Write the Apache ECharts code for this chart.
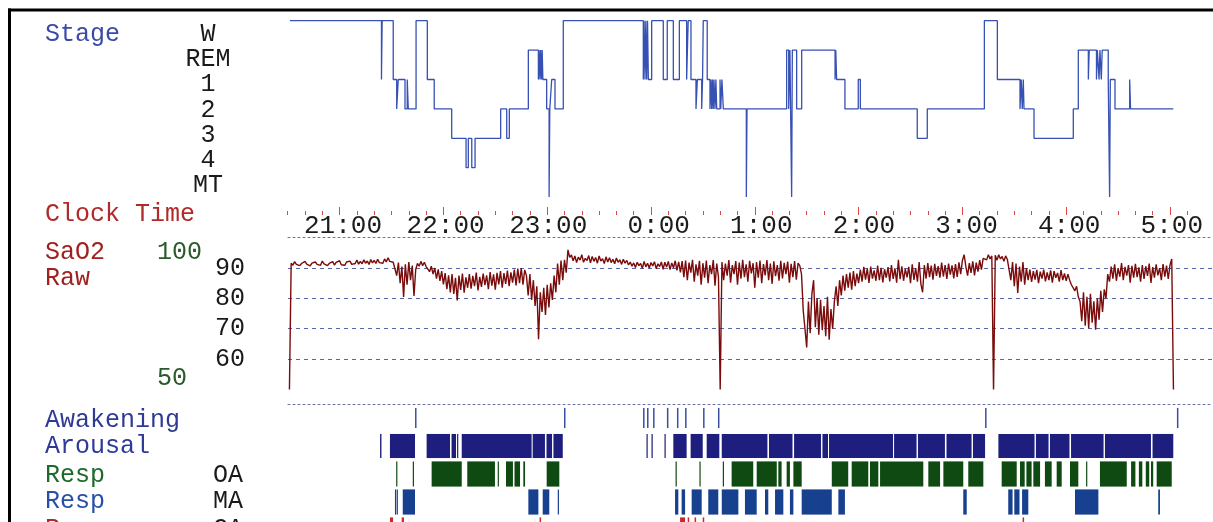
<!DOCTYPE html>
<html><head><meta charset="utf-8">
<script src="https://cdn.jsdelivr.net/npm/echarts@6/dist/echarts.min.js"></script>
<style>html,body{margin:0;padding:0;background:#fff}#c{width:1213px;height:522px}</style>
</head><body><div id="c"></div>
<script>
// ---------------- data (times are minutes relative to 0:00; negative = before midnight) -------------
const stageNames = ['MT', '4', '3', '2', '1', 'REM', 'W'];   // bottom -> top
const stageLabels = ['W', 'REM', '1', '2', '3', '4', 'MT'];
const clockLabels = ['21:00', '22:00', '23:00', '0:00', '1:00', '2:00', '3:00', '4:00', '5:00'];

const stageSteps = [
  [-208.7,'W'],[-155.8,'1'],[-155.4,'W'],[-149.0,'1'],[-147.0,'2'],[-146.1,'1'],[-142.2,'2'],
  [-140.9,'1'],[-140.3,'2'],[-135.8,'W'],[-129.3,'1'],[-125.3,'2'],[-115.2,'3'],[-106.9,'4'],
  [-105.6,'3'],[-103.6,'4'],[-101.7,'3'],[-86.9,'2'],[-83.4,'3'],[-81.9,'2'],[-70.9,'REM'],
  [-65.1,'1'],[-64.7,'REM'],[-64.2,'1'],[-63.8,'REM'],[-63.3,'1'],[-62.9,'REM'],[-62.5,'1'],
  [-60.3,'2'],[-58.9,'MT'],[-58.5,'2'],[-57.4,'1'],[-55.5,'2'],[-50.7,'W'],
  [-4.45,'1'],[-4.0,'W'],[-3.47,'1'],[-3.0,'W'],[-2.49,'1'],[-2.0,'W'],[-1.54,'1'],
  [0.39,'W'],[7.1,'1'],[9.4,'W'],[12.9,'1'],[16.4,'W'],[20.6,'1'],[21.5,'W'],[23.1,'1'],
  [26.0,'2'],[26.8,'1'],[29.3,'2'],[29.8,'1'],[30.2,'W'],[32.5,'1'],
  [34.1,'2'],[34.6,'1'],[35.1,'2'],[35.5,'1'],[36.0,'2'],[36.4,'1'],[37.0,'2'],[37.5,'1'],[38.0,'2'],
  [39.9,'1'],[40.3,'2'],[41.0,'1'],[41.8,'2'],[55.1,'MT'],[55.5,'2'],
  [78.4,'REM'],[79.6,'2'],[80.3,'REM'],[81.3,'MT'],[81.7,'REM'],[84.2,'2'],[87.1,'REM'],
  [106.4,'1'],[106.8,'REM'],[107.3,'1'],[112.1,'2'],[119.8,'1'],[121.0,'2'],
  [153.9,'3'],[159.7,'2'],[192.7,'W'],[200.2,'1'],
  [213.3,'2'],[214.0,'1'],[214.6,'2'],[215.2,'1'],[215.6,'2'],
  [221.4,'3'],[244.1,'2'],[247.0,'REM'],[252.8,'1'],[253.3,'REM'],
  [257.5,'1'],[258.0,'REM'],[259.0,'1'],[259.5,'REM'],[260.3,'1'],[260.8,'REM'],
  [264.3,'1'],[265.1,'MT'],[265.5,'1'],[268.2,'2'],[276.7,'1'],[277.2,'2'],[301.9,'2']
];

const sao2Start = -209;   // minutes (first sample)
const sao2Step = 1;       // minutes between samples
const sao2Values = [
  50,
  91.6, 90.9, 92.1, 91.2, 91.8, 90.8, 91.5, 91.0, 92.2, 91.3,
  91.9, 90.7, 91.6, 91.1, 92.0, 91.2, 91.7, 90.9, 92.3, 91.4,
  91.8, 90.8, 91.5, 91.2, 92.1, 91.0, 91.9, 91.3, 92.4, 91.1,
  91.7, 90.9, 92.0, 91.4, 92.3, 91.2, 91.8, 91.5, 92.6, 91.3,
  92.2, 91.4, 92.7, 91.6, 92.3, 91.2, 92.8, 91.7, 92.5, 91.5,
  92.9, 91.8, 92.4, 91.6, 93.0, 92.0, 93.4, 92.2, 92.8, 91.9,
  92.5,
  87.5, 91.8, 85.0, 90.5, 80.5, 91.2, 84.5, 92.0, 86.0, 90.8, 80.8, 89.5,
  91.5, 90.6, 92.2, 90.8, 91.9, 90.5,
  91.0, 88.8, 90.6, 88.0, 90.0, 86.5, 89.6, 85.8, 89.0, 84.6,
  88.3, 83.0, 87.6, 82.0, 88.0, 81.5, 86.8, 79.3, 87.5, 82.8, 88.2, 81.9, 86.9, 83.5,
  88.0, 83.2, 87.4, 84.0, 88.5, 82.6, 87.1, 83.8, 88.2, 84.4,
  87.6, 83.0, 88.7, 84.2, 87.9, 82.9, 88.4, 84.6, 89.0, 83.5,
  88.3, 84.8, 89.2, 84.0, 88.6, 85.2, 89.5, 84.3, 89.8, 85.0,
  90.0, 84.5, 89.4,
  87.5, 81.0, 88.0, 79.5, 86.0, 77.5, 84.0,
  66.5,
  82.0, 75.5, 83.5, 74.5, 84.5, 77.0, 85.0, 79.5, 87.5, 82.0,
  91.5, 84.5, 92.5, 86.0, 92.7, 88.5,
  96.0,
  93.5, 94.3, 92.4, 94.0, 91.8, 93.6, 92.6, 94.4, 91.9, 93.2,
  92.5, 94.1, 91.7, 93.8, 92.2, 93.5, 91.6, 94.0, 92.3, 93.1,
  91.5, 93.7, 92.0, 93.4, 91.8, 92.9, 91.4, 93.3, 91.9, 92.7,
  91.2, 92.9, 91.6, 92.5, 91.0,
  92.0, 90.6, 91.7, 90.2, 91.9, 90.8, 91.5, 89.9, 92.2, 90.4,
  91.6, 90.0, 91.8, 90.7, 92.1, 89.8, 91.4, 90.5, 92.0, 89.6,
  91.9, 90.3, 92.2, 89.5, 91.7, 90.1, 92.4, 89.2, 92.0, 88.6,
  92.3,
  87.0, 92.5, 86.0, 91.8, 88.5, 92.7, 85.5, 91.2, 87.5, 92.4,
  84.5, 91.6, 86.8, 92.5, 85.0, 91.0, 88.0, 92.6, 84.2, 91.5,
  87.0,
  50,
  92.0, 86.0, 91.5, 87.5, 92.6, 85.2, 91.0, 88.0, 92.3, 84.5,
  91.8, 86.5, 92.7, 87.0, 91.2, 85.5, 92.4, 88.2, 91.6, 83.5,
  92.0, 86.8, 92.5, 85.0, 91.3, 87.6, 92.6, 86.0, 91.5, 84.8,
  92.2, 87.3, 91.0, 85.8, 92.4, 86.6, 91.7, 88.0, 92.1, 85.2,
  91.4, 87.0, 92.3, 86.2, 91.6,
  90.8, 88.0,
  76.0, 70.0, 63.8, 79.0, 68.5, 81.5, 86.0, 70.5, 80.0, 68.0,
  79.5, 69.5, 77.5, 67.5, 80.5, 66.4, 76.5, 70.0,
  79.0, 84.0, 77.5, 86.0, 81.0, 87.5, 82.5, 88.0, 83.5, 88.5, 82.9, 89.0, 84.0, 88.2, 85.0,
  89.5, 85.5, 90.4, 86.2, 89.8, 85.1, 90.5, 86.5, 89.2, 85.8,
  90.8, 86.0, 90.1, 85.3, 89.6, 86.8, 90.3, 85.6, 91.0, 86.4,
  89.9, 85.2, 92.7, 86.3, 90.6, 85.8, 89.7, 86.9, 90.4, 85.0,
  91.2, 86.1, 90.0, 85.5, 92.0, 84.8, 82.0,
  91.0, 86.5, 91.6, 87.0, 90.8, 86.2, 91.4, 87.4, 90.6, 86.8,
  91.8, 87.2, 91.0, 86.4, 91.5, 87.8, 90.9, 86.6, 91.3, 87.1,
  91.9, 88.0, 92.5, 94.4, 90.5, 87.5, 91.6, 88.4, 92.2, 87.6,
  91.8, 88.8, 92.6, 89.5, 93.2,
  93.8, 92.7, 94.4, 93.0, 94.0,
  50,
  94.2, 92.6, 94.4, 93.0, 93.8, 92.2, 94.0, 92.8,
  93.3, 86.0, 92.0, 84.0, 91.5, 81.8, 90.5, 85.5, 92.0, 84.5, 90.0, 86.0,
  89.5, 85.4, 89.0, 86.2, 89.4, 85.0, 88.8, 86.5, 89.5, 85.6,
  88.6, 86.0, 89.2, 85.2, 89.0, 86.8, 88.4, 85.5, 89.3, 86.0,
  88.2, 85.8, 88.0,
  86.0, 84.5, 85.0, 82.5, 84.0, 80.5,
  79.0, 72.5, 82.0, 71.0, 80.5, 70.2, 81.5, 72.0, 79.0, 69.7, 80.0, 73.0, 82.5, 75.5,
  83.0, 80.0, 88.0,
  85.5, 90.5, 86.5, 91.2, 85.8, 90.0, 87.2, 91.6, 86.0, 90.4,
  87.5, 91.0, 85.2, 90.7, 86.8, 91.4, 87.0, 90.2, 85.5, 91.0,
  86.4, 90.6, 87.4, 91.5, 85.1, 90.3, 86.8, 91.2, 87.6, 90.0,
  86.0, 91.3, 87.2, 90.8, 86.4, 91.0,
  93.0,
  50
];

const awakeningTimes = [-136.4, -50.3, -4.6, -2.3, 1.2, 9.2, 15.0, 19.7, 30.1, 38.7, 193.1, 304.0];

const arousalEvents = [
  [-156.6,-155.8],[-150.9,-136.4],[-129.7,-116.2],[-115.3,-112.7],[-112.1,-111.4],[-109.4,-69.0],
  [-68.4,-61.3],[-60.4,-57.2],[-56.4,-51.0],[-2.6,-2.0],[0.3,0.9],[7.8,8.4],[12.9,20.6],
  [22.9,29.9],[32.2,39.5],[40.9,67.3],[68.2,81.8],[82.7,98.3],[99.1,102.3],[102.9,139.9],
  [140.5,153.5],[154.3,169.9],[170.8,185.3],[186.1,193.1],[200.8,221.7],[222.5,229.8],
  [230.6,241.9],[242.8,261.6],[262.4,289.0],[289.9,301.9]
];

const obstructiveApnea = [
  [-147.3,-146.6],[-137.7,-137.0],[-126.8,-109.4],[-106.2,-90.2],[-88.6,-88.0],[-83.8,-79.8],
  [-78.9,-75.7],[-73.8,-72.8],[-60.3,-53.0],[14.2,14.8],[28.0,28.6],[41.5,42.1],[46.6,59.1],
  [61.1,72.7],[73.6,75.5],[78.4,80.3],[82.3,87.1],[104.5,114.0],[116.0,125.6],[126.6,131.4],
  [132.4,157.4],[160.3,167.1],[169.0,180.5],[183.4,192.1],[202.7,211.4],[213.3,216.0],
  [217.0,220.0],[221.0,224.9],[227.7,231.6],[234.5,237.4],[242.2,247.0],[251.5,252.1],
  [259.5,275.0],[277.5,280.0],[282.0,284.0],[286.0,288.0],[289.0,290.3],[292.3,301.0]
];

const mixedApnea = [
  [-148.0,-147.6],[-147.0,-146.6],[-143.5,-136.4],[-70.9,-65.1],[-62.6,-58.8],[-53.9,-53.3],
  [13.9,15.8],[17.7,19.7],[23.5,29.3],[33.1,38.9],[40.9,50.5],[54.3,61.1],[65.9,67.8],
  [71.7,76.5],[80.3,82.3],[87.1,104.5],[108.3,112.1],[180.5,182.5],[206.5,209.0],
  [210.0,213.0],[214.5,218.1],[245.1,258.6],[293.2,294.2]
];

const centralApnea = [
  [-150.9,-149.1],[-144.1,-142.8],[-64.4,-64.0],[16.8,19.7],[21.2,21.6],[25.2,25.6],
  [29.9,30.3],[214.8,215.2]
];

const eventRows = ['Awakening', 'Arousal', 'OA', 'MA', 'CA'];
const rowLabels = ['Awakening', 'Arousal', 'Resp', 'Resp', 'Resp'];
const rowSubLabels = ['', '', 'OA', 'MA', 'CA'];

// ---------------- layout ----------------
const ORIGIN_PX = 651;      // pixel of 0:00
const PX_PER_MIN = 1.73;
const PLOT_LEFT = 288, W = 1213;
const toMin = px => (px - ORIGIN_PX) / PX_PER_MIN;
const toPx = m => ORIGIN_PX + m * PX_PER_MIN;
const FONT = '"Liberation Mono", "DejaVu Sans Mono", monospace';

const chart = echarts.init(document.getElementById('c'), null, {renderer: 'canvas'});

function eventSeries(rows, rowIdx, color, frac, minW) {
  return {
    type: 'custom', xAxisIndex: 2, yAxisIndex: 2, silent: true, clip: false,
    data: rows.map(r => [r[0], r[1], rowIdx]),
    encode: {x: [0, 1], y: 2},
    renderItem: function (params, api) {
      const s = api.coord([api.value(0), rowIdx]);
      const e = api.coord([api.value(1), rowIdx]);
      const h = api.size([0, 1])[1] * frac;
      const w = Math.max(e[0] - s[0], minW);
      return {type: 'rect', shape: {x: s[0], y: s[1] - h / 2, width: w, height: h}, style: {fill: color}};
    }
  };
}

const dataX = (gi, extra) => Object.assign({
  type: 'value', gridIndex: gi, min: toMin(PLOT_LEFT), max: toMin(W),
  axisLabel: {show: false}, axisTick: {show: false}, splitLine: {show: false}, axisLine: {show: false}
}, extra || {});

const texts = [];
function addText(t, x, y, color, align, size) {
  texts.push({type: 'text', x: x, y: y, silent: true,
    style: {text: t, font: (size || 25) + 'px ' + FONT, fill: color,
      align: align || 'left', verticalAlign: 'middle', textAlign: align || 'left', textVerticalAlign: 'middle'}});
}
addText('Stage', 45, 34, '#3a4aa8');
const stageLabelY = [34, 59.3, 84.6, 109.9, 135.2, 160.5, 185.8];
stageLabels.forEach((s, i) => addText(s, 208, stageLabelY[i], '#1a1a1a', 'center'));
addText('Clock Time', 45, 214, '#b02a2a');
addText('SaO2', 45, 252, '#a02020');
addText('Raw', 45, 278, '#a02020');
addText('100', 157, 252, '#2a5a2a');
addText('50', 157, 378, '#2a5a2a');
const rowLabelY = [420, 446.5, 475, 501.5, 529];
const rowLabelColor = ['#2e3a96', '#2e3a96', '#1e6a2a', '#2850a8', '#a03030'];
rowLabels.forEach((t, i) => {
  addText(t, 45, rowLabelY[i], rowLabelColor[i]);
  if (rowSubLabels[i]) addText(rowSubLabels[i], 213, rowLabelY[i], '#1a1a1a');
});

const frame = [
  {type: 'line', silent: true, shape: {x1: 8, y1: 10, x2: 1213, y2: 10}, style: {stroke: '#000', lineWidth: 3}},
  {type: 'line', silent: true, shape: {x1: 9.5, y1: 8.5, x2: 9.5, y2: 522}, style: {stroke: '#000', lineWidth: 3}}
];

const option = {
  animation: false,
  backgroundColor: '#fff',
  grid: [
    {left: PLOT_LEFT, right: 0, top: 20.7, height: 176.4, outerBoundsMode: 'none'},
    {left: PLOT_LEFT, right: 0, top: 237.7, height: 151.7, outerBoundsMode: 'none'},
    {left: PLOT_LEFT, right: 0, top: 404, height: 140, outerBoundsMode: 'none'},
    {left: 382, right: W - 1203, top: 200, height: 10, outerBoundsMode: 'none'},
    {left: toPx(-210), right: W - toPx(310), top: 207, height: 8, outerBoundsMode: 'none'},
    {left: toPx(-180), right: W - toPx(300), top: 207, height: 8, outerBoundsMode: 'none'}
  ],
  xAxis: [
    dataX(0),
    dataX(1, {position: 'top', axisLine: {show: true, onZero: false, lineStyle: {color: '#5a78a8', width: 1, type: [2, 3]}}}),
    dataX(2, {position: 'top', axisLine: {show: true, onZero: false, lineStyle: {color: '#6a70a8', width: 1, type: [2, 3]}}}),
    {type: 'category', gridIndex: 3, data: clockLabels, boundaryGap: false,
      axisLine: {show: false}, axisTick: {show: false}, splitLine: {show: false},
      axisLabel: {interval: 0, align: 'right', verticalAlign: 'middle', margin: 16,
        fontFamily: FONT, fontSize: 26, color: '#1c1c1c'}},
    {type: 'value', gridIndex: 4, min: -210, max: 310, interval: 10,
      axisLine: {show: false, onZero: false}, axisLabel: {show: false}, splitLine: {show: false},
      axisTick: {show: true, inside: true, length: 4, lineStyle: {color: '#e04848', width: 1}}},
    {type: 'value', gridIndex: 5, min: -180, max: 300, interval: 60,
      axisLine: {show: false, onZero: false}, axisLabel: {show: false}, splitLine: {show: false},
      axisTick: {show: true, inside: true, length: 8, lineStyle: {color: '#e04848', width: 1}}}
  ],
  yAxis: [
    {type: 'value', gridIndex: 0, min: 0, max: stageNames.length - 1, show: false, splitLine: {show: false}},
    {type: 'value', gridIndex: 1, min: 50, max: 100, interval: 10,
      axisLine: {show: false}, axisTick: {show: false},
      axisLabel: {margin: 43, fontFamily: FONT, fontSize: 25, color: '#1a1a1a',
        formatter: v => (v === 50 || v === 100) ? '' : String(v)},
      splitLine: {show: true, showMinLine: false, showMaxLine: false,
        lineStyle: {color: '#5a64a8', width: 1, type: [4, 4]}}},
    {type: 'category', gridIndex: 2, data: eventRows, inverse: true, show: false},
    {type: 'value', gridIndex: 3, show: false},
    {type: 'value', gridIndex: 4, show: false},
    {type: 'value', gridIndex: 5, show: false}
  ],
  series: [
    {type: 'line', name: 'Stage', xAxisIndex: 0, yAxisIndex: 0, step: 'end', showSymbol: false, silent: true,
      data: stageSteps.map(d => [d[0], stageNames.indexOf(d[1])]),
      lineStyle: {color: '#3650b4', width: 1.3}},
    {type: 'line', name: 'SaO2', xAxisIndex: 1, yAxisIndex: 1, showSymbol: false, silent: true,
      data: sao2Values.map((v, i) => [sao2Start + i * sao2Step, v]),
      lineStyle: {color: '#7a0b0b', width: 1.4}},
    eventSeries(awakeningTimes.map(t => [t, t]), 0, '#3a4fa0', 0.72, 1.5),
    eventSeries(arousalEvents, 1, '#1e1e7e', 0.86, 1.2),
    eventSeries(obstructiveApnea, 2, '#0f4a12', 0.9, 1.2),
    eventSeries(mixedApnea, 3, '#17408f', 0.9, 1.2),
    eventSeries(centralApnea, 4, '#c82828', 0.9, 1.5)
  ],
  graphic: frame.concat(texts)
};
chart.setOption(option);
</script>
</body></html>
